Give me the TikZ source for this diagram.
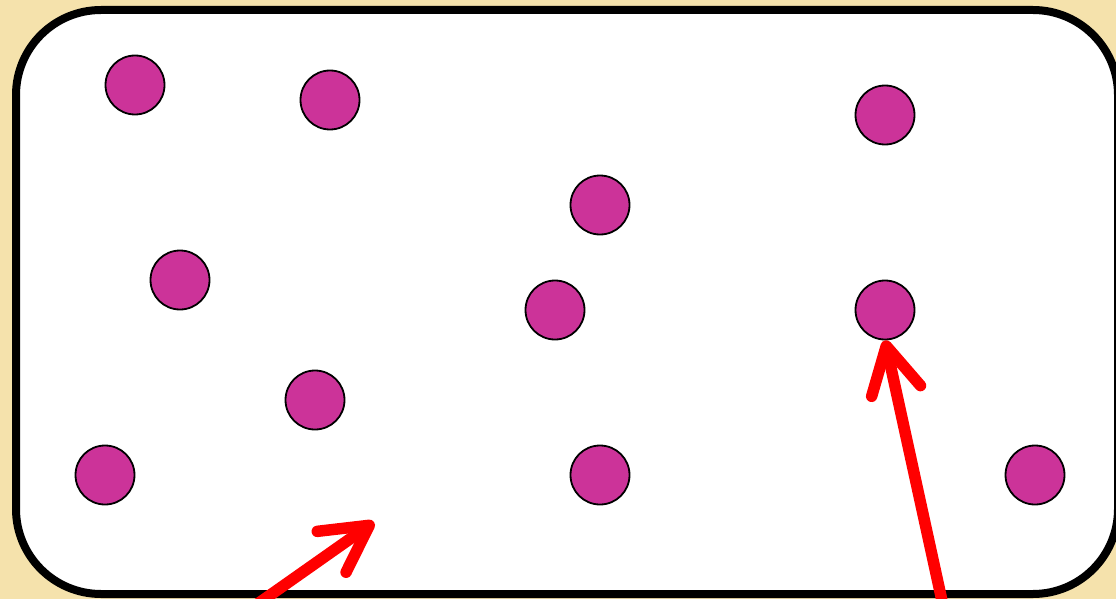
\documentclass[tikz,border=0pt]{standalone}
\usetikzlibrary{arrows.meta}
\definecolor{parch}{RGB}{245,226,172}
\definecolor{dot}{RGB}{204,51,153}
\definecolor{arrred}{RGB}{255,0,0}
\begin{document}
\begin{tikzpicture}[x=1pt,y=-1pt,
  dotnode/.style={circle,draw=black,line width=1.8pt,fill=dot,minimum size=59pt,inner sep=0pt},
  boxframe/.style={draw=black,line width=8pt,fill=white,rounded corners=85pt},
  redarrow/.style={draw=arrred,line width=11.5pt,line cap=round,line join=round,
    -{Straight Barb[length=46pt,width=50pt,round]}}]
\useasboundingbox (0,0) rectangle (1116,599);
\clip (0,0) rectangle (1116,599);
\fill[parch] (0,0) rectangle (1116,599);
\draw[boxframe] (16,10) rectangle (1118,594);
\node[dotnode] (c1) at (135,85) {};
\node[dotnode] (c2) at (330,100) {};
\node[dotnode] (c3) at (885,115) {};
\node[dotnode] (c4) at (600,205) {};
\node[dotnode] (c5) at (180,280) {};
\node[dotnode] (c6) at (555,310) {};
\node[dotnode] (c7) at (885,310) {};
\node[dotnode] (c8) at (315,400) {};
\node[dotnode] (c9) at (105,475) {};
\node[dotnode] (c10) at (600,475) {};
\node[dotnode] (c11) at (1035,475) {};
\coordinate (a1tail) at (249,610);
\coordinate (a1tip) at (374,522);
\coordinate (a2tail) at (944,610);
\draw[redarrow] (a1tail) -- (a1tip);
\draw[redarrow] (a2tail) -- (c7.south);
\end{tikzpicture}
\end{document}
